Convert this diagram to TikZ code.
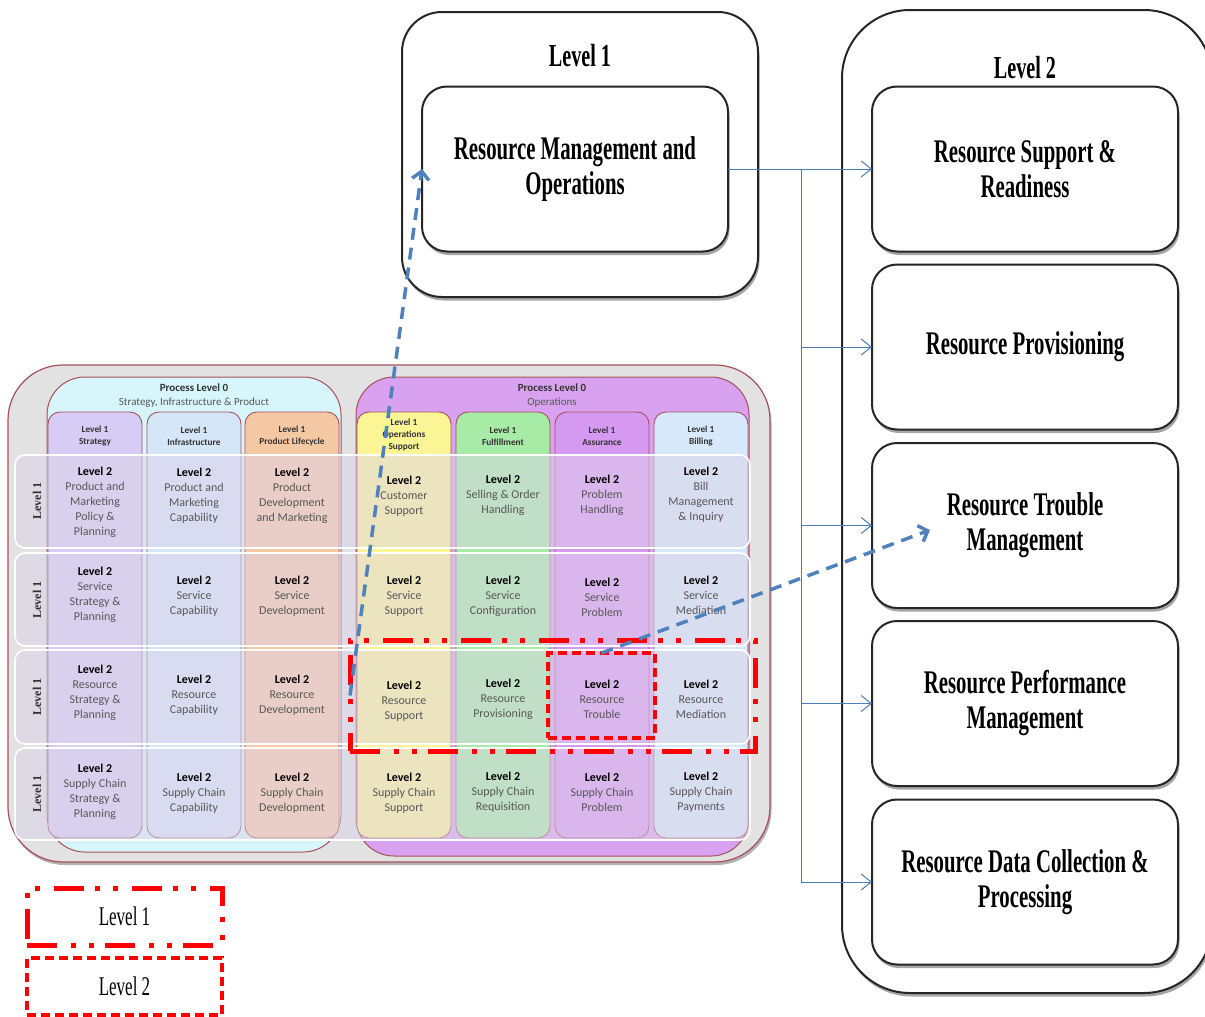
\documentclass[tikz,border=0pt]{standalone}
\usepackage{fontspec}
\setmainfont{Liberation Serif}
\newfontfamily\condserif[FakeStretch=0.63]{Liberation Serif}
\newfontfamily\calfont{Carlito}
\usetikzlibrary{arrows.meta,shadows,calc}

\definecolor{linkblue}{HTML}{4A7EBB}
\definecolor{dashblue}{HTML}{4F81BD}
\definecolor{hlred}{HTML}{FF0000}
\definecolor{mapframe}{HTML}{A8505A}
\definecolor{outergray}{HTML}{E2E2E2}
\definecolor{grpcyan}{HTML}{D6F6FB}
\definecolor{grpviolet}{HTML}{D8A2F0}
\definecolor{colstrat}{HTML}{D6CCF5}
\definecolor{colinfra}{HTML}{D6E6F9}
\definecolor{colprod}{HTML}{F5C8A4}
\definecolor{colops}{HTML}{FBF596}
\definecolor{colful}{HTML}{A6EBA6}
\definecolor{colass}{HTML}{D699F2}
\definecolor{colbill}{HTML}{D6E8F9}
\definecolor{rowtint}{HTML}{DCD4E8}
\definecolor{celltext}{HTML}{585858}
\definecolor{headtext}{HTML}{333333}

\tikzset{
  mapshadow/.style={drop shadow={shadow xshift=1.5pt, shadow yshift=-3pt, opacity=0.3, fill=black}},
  boxshadow/.style={drop shadow={shadow xshift=1.5pt, shadow yshift=-3.5pt, opacity=0.35, fill=black}},
  colframe/.style={draw=mapframe, line width=0.9pt, rounded corners=12pt},
  rowband/.style={rounded corners=10pt, fill=rowtint, fill opacity=0.5, draw=white, line width=1.6pt},
  rowlabel/.style={font={\bfseries\fontsize{12}{13}\selectfont}, text=headtext, rotate=90, inner sep=0pt},
  colhead/.style={align=center, font={\calfont\bfseries\fontsize{9.3}{12}\selectfont}, text=headtext, inner sep=0pt},
  grphead/.style={align=center, font={\calfont\fontsize{11}{14}\selectfont}, text=celltext, inner sep=0pt},
  cell/.style={align=center, font={\calfont\fontsize{12}{15}\selectfont}, text=celltext, inner sep=0pt},
  lvlonebox/.style={draw=hlred, line width=5pt,
    dash pattern=on 30pt off 14pt on 5pt off 13pt on 5pt off 11pt, inner sep=0pt, outer sep=0pt},
  lvltwobox/.style={draw=hlred, line width=3.5pt, dash pattern=on 9pt off 5pt, inner sep=0pt, outer sep=0pt},
  legendtext/.style={font={\condserif\fontsize{27}{30}\selectfont}},
  bigframe/.style={draw=black!85, line width=2pt, fill=white, inner sep=0pt, outer sep=0pt, boxshadow},
  procbox/.style={draw=black!85, line width=2pt, fill=white, rounded corners=25pt, inner sep=0pt, outer sep=0pt,
    minimum width=306pt, minimum height=165pt, align=center,
    font={\condserif\bfseries\fontsize{33}{35}\selectfont}, boxshadow},
  headlabel/.style={font={\condserif\bfseries\fontsize{32}{34}\selectfont}, inner sep=0pt},
  link/.style={draw=linkblue, line width=1pt},
  linkarrow/.style={link, -{Straight Barb[length=10pt, width=16pt]}},
  dasharrow/.style={draw=dashblue, line width=3.5pt, dash pattern=on 12pt off 8pt,
    -{Straight Barb[length=8pt, width=17pt]}},
}

\begin{document}
\begin{tikzpicture}[x=1pt, y=-1pt]
\useasboundingbox (0,0) rectangle (1205,1017);
\fill[white] (0,0) rectangle (1205,1017);

% ---------------- process map ----------------
\draw[draw=mapframe, line width=1.2pt, fill=outergray, rounded corners=55pt, mapshadow]
  (8,365) rectangle (770,862);

% level 0 groups
\draw[draw=mapframe, line width=1pt, fill=grpcyan, rounded corners=38pt] (47,377) rectangle (341,852);
\draw[draw=mapframe, line width=1pt, fill=grpviolet, rounded corners=38pt] (356,377) rectangle (749,856);

\node[grphead] (g0head) at (194,396) {\textcolor{headtext}{\textbf{Process Level 0}}\\Strategy, Infrastructure \& Product};
\node[grphead] (g1head) at (552,396) {\textcolor{headtext}{\textbf{Process Level 0}}\\Operations};

% level 1 columns
\foreach \x/\c in {48/colstrat,147/colinfra,245/colprod,357/colops,456/colful,555/colass,654/colbill}
  \draw[colframe, fill=\c] (\x,412) rectangle ++(94,426);

\node[colhead] (hstrat) at (95,436)  {Level 1\\Strategy};
\node[colhead] (hinfra) at (194,436) {Level 1\\Infrastructure};
\node[colhead] (hprod)  at (292,436) {Level 1\\Product Lifecycle};
\node[colhead] (hops)   at (404,435) {Level 1\\Operations\\Support};
\node[colhead] (hful)   at (503,436) {Level 1\\Fulfillment};
\node[colhead] (hass)   at (602,436) {Level 1\\Assurance};
\node[colhead] (hbill)  at (701,436) {Level 1\\Billing};

% level 1 rows
\foreach \ya/\yb in {455/548,553/646,650/744,748/840}
  \draw[rowband] (15,\ya) rectangle (750,\yb);

\foreach \y [count=\i] in {501,600,697,794}
  \node[rowlabel] (rowlab\i) at (37,\y) {Level 1};

% level 2 cells, row 1
\node[cell] (c11) at (95,502)  {\textcolor{black}{\textbf{Level 2}}\\Product and\\Marketing\\Policy \&\\Planning};
\node[cell] (c12) at (194,496) {\textcolor{black}{\textbf{Level 2}}\\Product and\\Marketing\\Capability};
\node[cell] (c13) at (292,496) {\textcolor{black}{\textbf{Level 2}}\\Product\\Development\\and Marketing};
\node[cell] (c14) at (404,496) {\textcolor{black}{\textbf{Level 2}}\\Customer\\Support};
\node[cell] (c15) at (503,495) {\textcolor{black}{\textbf{Level 2}}\\Selling \& Order\\Handling};
\node[cell] (c16) at (602,495) {\textcolor{black}{\textbf{Level 2}}\\Problem\\Handling};
\node[cell] (c17) at (701,495) {\textcolor{black}{\textbf{Level 2}}\\Bill\\Management\\\& Inquiry};
% row 2
\node[cell] (c21) at (95,595)  {\textcolor{black}{\textbf{Level 2}}\\Service\\Strategy \&\\Planning};
\node[cell] (c22) at (194,596) {\textcolor{black}{\textbf{Level 2}}\\Service\\Capability};
\node[cell] (c23) at (292,596) {\textcolor{black}{\textbf{Level 2}}\\Service\\Development};
\node[cell] (c24) at (404,596) {\textcolor{black}{\textbf{Level 2}}\\Service\\Support};
\node[cell] (c25) at (503,596) {\textcolor{black}{\textbf{Level 2}}\\Service\\Configuration};
\node[cell] (c26) at (602,597) {\textcolor{black}{\textbf{Level 2}}\\Service\\Problem};
\node[cell] (c27) at (701,595) {\textcolor{black}{\textbf{Level 2}}\\Service\\Mediation};
% row 3
\node[cell] (c31) at (95,693)  {\textcolor{black}{\textbf{Level 2}}\\Resource\\Strategy \&\\Planning};
\node[cell] (c32) at (194,695) {\textcolor{black}{\textbf{Level 2}}\\Resource\\Capability};
\node[cell] (c33) at (292,695) {\textcolor{black}{\textbf{Level 2}}\\Resource\\Development};
\node[cell] (c34) at (404,701) {\textcolor{black}{\textbf{Level 2}}\\Resource\\Support};
\node[cell] (c35) at (503,699) {\textcolor{black}{\textbf{Level 2}}\\Resource\\Provisioning};
\node[cell] (c36) at (602,699) {\textcolor{black}{\textbf{Level 2}}\\Resource\\Trouble};
\node[cell] (c37) at (701,699) {\textcolor{black}{\textbf{Level 2}}\\Resource\\Mediation};
% row 4
\node[cell] (c41) at (95,792)  {\textcolor{black}{\textbf{Level 2}}\\Supply Chain\\Strategy \&\\Planning};
\node[cell] (c42) at (194,793) {\textcolor{black}{\textbf{Level 2}}\\Supply Chain\\Capability};
\node[cell] (c43) at (292,793) {\textcolor{black}{\textbf{Level 2}}\\Supply Chain\\Development};
\node[cell] (c44) at (404,793) {\textcolor{black}{\textbf{Level 2}}\\Supply Chain\\Support};
\node[cell] (c45) at (503,792) {\textcolor{black}{\textbf{Level 2}}\\Supply Chain\\Requisition};
\node[cell] (c46) at (602,792) {\textcolor{black}{\textbf{Level 2}}\\Supply Chain\\Problem};
\node[cell] (c47) at (701,792) {\textcolor{black}{\textbf{Level 2}}\\Supply Chain\\Payments};

% highlighted selections
\node[lvlonebox, minimum width=405pt, minimum height=111pt] (hlone) at (552.5,695.5) {};
\node[lvltwobox, minimum width=107pt, minimum height=85pt] (hltwo) at (601.5,695.5) {};

% legend
\node[lvlonebox, minimum width=195pt, minimum height=57pt, legendtext] (legone) at (124.5,916.5) {Level 1};
\node[lvltwobox, minimum width=195pt, minimum height=57pt, legendtext] (legtwo) at (124.5,986.5) {Level 2};

% ---------------- level 1 process ----------------
\node[bigframe, rounded corners=40pt, minimum width=356pt, minimum height=285pt] (lone) at (580,154.5) {};
\node[headlabel] (lonehead) at (580,56) {Level 1};
\node[procbox] (lonein) at (575,169) {Resource Management and\\Operations};

% ---------------- level 2 processes ----------------
\node[bigframe, rounded corners=68pt, minimum width=370pt, minimum height=983pt] (ltwo) at (1027,501.5) {};
\node[headlabel] (ltwohead) at (1025,68) {Level 2};
\node[procbox] (s1) at (1025,169)   {Resource Support \&\\Readiness};
\node[procbox] (s2) at (1025,347)   {Resource Provisioning};
\node[procbox] (s3) at (1025,525.5) {Resource Trouble\\Management};
\node[procbox] (s4) at (1025,703.5) {Resource Performance\\Management};
\node[procbox] (s5) at (1025,882)   {Resource Data Collection \&\\Processing};

% decomposition connectors
\coordinate (trunk) at (801,169);
\draw[linkarrow] (lonein.east) -- (s1.west);
\draw[link] (trunk) -- (trunk |- s5.west);
\foreach \s in {s2,s3,s4,s5}
  \draw[linkarrow] (trunk |- \s.west) -- (\s.west);

% mapping arrows
\coordinate (rttip) at (930,530);
\draw[dasharrow] (hlone.west) -- (lonein.west);
\draw[dasharrow] (hltwo.north) -- (rttip);

\end{tikzpicture}
\end{document}
